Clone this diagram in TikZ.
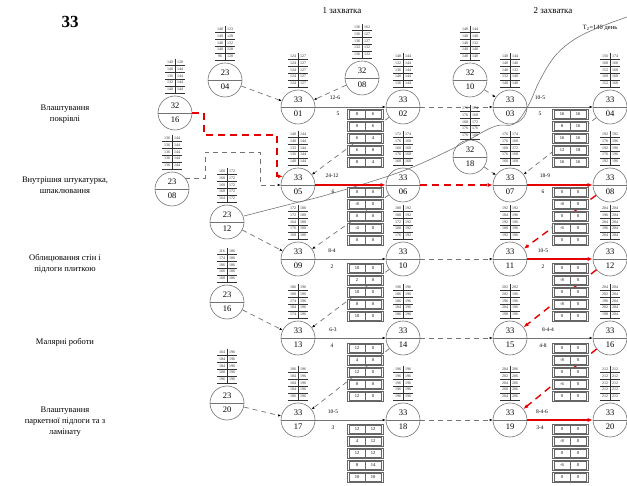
\documentclass[tikz,border=0pt]{standalone}
\usepackage{fontspec}
\setmainfont{Liberation Serif}
\usetikzlibrary{arrows.meta}
\setlength{\tabcolsep}{2pt}
\renewcommand{\arraystretch}{1.3}
\setlength{\arrayrulewidth}{0.35pt}
\tikzset{
 ev/.style={circle,draw=black!55,line width=0.6pt,minimum size=34pt,inner sep=0,fill=white},
 evtxt/.style={font=\fontsize{8.5}{8.5}\selectfont,inner sep=0},
 stkn/.style={inner sep=0,font=\fontsize{4}{5}\selectfont,text=black!80},
 bframe/.style={draw=black!60,line width=0.5pt,fill=white,minimum width=36pt,minimum height=10pt,inner sep=0},
 bcell/.style={draw=black!60,line width=0.4pt,minimum width=16pt,minimum height=7.5pt,inner sep=0,font=\fontsize{4.5}{5}\selectfont},
 gsol/.style={draw=black!55,line width=0.7pt,-{Latex[length=3pt,width=2.5pt,black]}},
 gdash/.style={draw=black!55,line width=0.7pt,dash pattern=on 5pt off 4pt,-{Latex[length=3pt,width=2.5pt,black]}},
 rsol/.style={draw=red!90!black,line width=1.4pt,-{Latex[length=5pt,width=4pt]}},
 rdash/.style={draw=red!90!black,line width=1.4pt,dash pattern=on 7pt off 5pt,-{Latex[length=5pt,width=4pt]}},
 lbl/.style={font=\fontsize{8.5}{11}\selectfont,align=center,inner sep=0},
 elbl/.style={font=\fontsize{5.5}{5.5}\selectfont,inner sep=0},
 hdr/.style={font=\fontsize{9}{9}\selectfont,inner sep=0},
}
\newcommand\evn[5]{\node[ev] (#1) at (#2,#3) {};
 \draw[black!55,line width=0.5pt] (#1.west)--(#1.east);
 \node[evtxt] (#1t) at ([yshift=7pt]#1.center) {#4};
 \node[evtxt] (#1b) at ([yshift=-7pt]#1.center) {#5};}
\newcommand\stk[8]{\node[stkn] (#1) at (#2,#3) {\begin{tabular}{c|c}#4\\\hline #5\\\hline #6\\\hline #7\\\hline #8\\\hline\end{tabular}};}
\newcommand\bcol[4]{\foreach \a/\b [count=\i from 0] in {#4} {
 \node[bframe] (#1r\i) at (#2,{#3+12*\i}) {};
 \node[bcell] (#1r\i-a) at ([xshift=-8pt]#1r\i.center) {\a};
 \node[bcell] (#1r\i-b) at ([xshift=8pt]#1r\i.center) {\b};}}
\begin{document}
\begin{tikzpicture}[x=1pt,y=-1pt]
\useasboundingbox (0,0) rectangle (627,486);
% title and headers
\node[font=\fontsize{17}{17}\selectfont\bfseries,inner sep=0] (title) at (70,22) {33};
\node[hdr] (h1) at (342,11) {1 захватка};
\node[hdr] (h2) at (553,11) {2 захватка};
\node[font=\fontsize{6.5}{7}\selectfont,inner sep=0] (h3) at (600,28) {T\textsubscript{2}=140 день};
% left labels
\node[lbl] (L1) at (65,114) {Влаштування\\покрівлі};
\node[lbl] (L2) at (65,185) {Внутрішня штукатурка,\\шпаклювання};
\node[lbl] (L3) at (65,264) {Облицювання стін і\\підлоги плиткою};
\node[lbl] (L4) at (65,342) {Малярні роботи};
\node[lbl] (L5) at (65,422) {Влаштування\\паркетної підлоги та з\\ламінату};
% coordinates
\coordinate (r1) at (204,135);
\coordinate (r3) at (277,150);
\coordinate (g1) at (205,152);
\coordinate (g2) at (260,152);
% event circles
\evn{n01}{298}{107}{33}{01}
\evn{n02}{403}{107}{33}{02}
\evn{n03}{510}{107}{33}{03}
\evn{n04}{610}{107}{33}{04}
\evn{n05}{298}{185}{33}{05}
\evn{n06}{403}{185}{33}{06}
\evn{n07}{510}{185}{33}{07}
\evn{n08}{610}{185}{33}{08}
\evn{n09}{298}{259}{33}{09}
\evn{n10}{403}{259}{33}{10}
\evn{n11}{510}{259}{33}{11}
\evn{n12}{610}{259}{33}{12}
\evn{n13}{298}{338}{33}{13}
\evn{n14}{403}{338}{33}{14}
\evn{n15}{510}{338}{33}{15}
\evn{n16}{610}{338}{33}{16}
\evn{n17}{298}{420}{33}{17}
\evn{n18}{403}{420}{33}{18}
\evn{n19}{510}{420}{33}{19}
\evn{n20}{610}{420}{33}{20}
\evn{q1}{225}{80}{23}{04}
\evn{q2}{362}{78}{32}{08}
\evn{q3}{470}{80}{32}{10}
\evn{q4}{175}{113}{32}{16}
\evn{q5}{172}{189}{23}{08}
\evn{q6}{227}{222}{23}{12}
\evn{q7}{470}{157}{32}{18}
\evn{q8}{227}{302}{23}{16}
\evn{q9}{227}{403}{23}{20}
% T2 curve
\draw[black!55,line width=0.6pt] plot[smooth,tension=0.6] coordinates {(244,216) (287,205) (330,194) (400,172) (450,150) (493,127) (514,124) (528,106) (540,80) (555,56) (575,39) (600,27) (627,17)};
% dependency lines
\draw[gdash] (q1)--(n01);
\draw[gdash] (q2)--(n01);
\draw[gdash] (q3)--(n03);
\draw[gdash] (n02)--(n05);
\draw[gdash] (n04)--(n07);
\draw[gdash] (q7)--(n07);
\draw[gdash] (n06)--(n09);
\draw[gdash] (q6)--(n09);
\draw[gdash] (n10)--(n13);
\draw[gdash] (q8)--(n13);
\draw[gdash] (n14)--(n17);
\draw[gdash] (q9)--(n17);
\draw[rdash] (n08)--(n11);
\draw[rdash] (n12)--(n15);
\draw[rdash] (n16)--(n19);
\draw[gdash] (q5.40) -| (g1) -| (g2) |- (n05.west);
\draw[rdash] (q4.east) -| (r1) -| (r3) |- (n05.150);
% box columns
\bcol{bA}{365}{114}{8/6,0/6,6/4,6/8,8/4}
\bcol{bB}{570}{114}{16/16,8/16,16/16,12/18,16/16}
\bcol{bC}{365}{192}{0/0,-8/0,0/0,-4/0,0/0}
\bcol{bD}{570}{192}{0/0,-8/0,0/0,-6/0,0/0}
\bcol{bE}{365}{268}{10/0,2/0,10/0,8/0,10/0}
\bcol{bF}{570}{268}{0/0,-8/0,0/0,-8/0,0/0}
\bcol{bG}{365}{348}{12/0,4/0,12/0,8/0,12/0}
\bcol{bH}{570}{348}{0/0,-8/0,0/0,-6/0,0/0}
\bcol{bI}{365}{429}{12/12,4/12,12/12,8/14,10/10}
\bcol{bJ}{570}{429}{0/0,-8/0,0/0,-6/0,0/0}
% horizontal work arrows
\draw[gsol] (n01)--(n02);
\draw[gdash] (n02)--(n03);
\draw[gsol] (n03)--(n04);
\draw[rsol] (n05)--(n06);
\draw[rdash] (n06)--(n07);
\draw[rsol] (n07)--(n08);
\draw[gsol] (n09)--(n10);
\draw[gdash] (n10)--(n11);
\draw[rsol] (n11)--(n12);
\draw[gsol] (n13)--(n14);
\draw[gdash] (n14)--(n15);
\draw[gsol] (n15)--(n16);
\draw[gsol] (n17)--(n18);
\draw[gdash] (n18)--(n19);
\draw[rsol] (n19)--(n20);
% edge labels
\node[elbl] (e1a) at (335,98) {12-6};   \node[elbl] (e1b) at (338,114) {5};
\node[elbl] (e2a) at (540,98) {10-5};   \node[elbl] (e2b) at (540,114) {5};
\node[elbl] (e3a) at (332,176) {24-12};  \node[elbl] (e3b) at (333,192) {6};
\node[elbl] (e4a) at (545,176) {18-9};  \node[elbl] (e4b) at (543,192) {6};
\node[elbl] (e5a) at (332,251) {8-4};   \node[elbl] (e5b) at (332,267) {2};
\node[elbl] (e6a) at (543,251) {10-5};  \node[elbl] (e6b) at (543,267) {2};
\node[elbl] (e7a) at (333,330) {6-3};   \node[elbl] (e7b) at (332,346) {4};
\node[elbl] (e8a) at (548,330) {8-4-4}; \node[elbl] (e8b) at (543,346) {4-8};
\node[elbl] (e9a) at (333,412) {10-5};  \node[elbl] (e9b) at (333,428) {3};
\node[elbl] (e10a) at (542,412) {8-4-6}; \node[elbl] (e10b) at (540,428) {3-4};
% number stacks
\stk{s01}{298}{70}{124&127}{124&127}{124&127}{124&127}{124&127}
\stk{s02}{403}{70}{140&144}{132&144}{136&144}{140&144}{136&144}
\stk{s03}{510}{70}{140&144}{140&140}{140&132}{132&140}{140&140}
\stk{s04}{610}{70}{156&174}{168&168}{152&168}{160&168}{152&168}
\stk{s05}{298}{148}{140&144}{140&144}{132&144}{136&144}{140&144}
\stk{s06}{403}{148}{172&174}{176&168}{160&168}{176&168}{168&168}
\stk{s07}{510}{148}{176&174}{176&168}{168&172}{176&168}{168&168}
\stk{s08}{610}{148}{192&192}{176&196}{192&196}{176&196}{192&196}
\stk{s09}{298}{222}{172&180}{172&180}{164&180}{176&180}{168&180}
\stk{s10}{403}{222}{180&192}{180&192}{172&192}{180&192}{176&192}
\stk{s11}{510}{222}{192&192}{184&196}{192&196}{180&196}{192&196}
\stk{s12}{610}{222}{204&204}{196&204}{204&204}{196&204}{204&204}
\stk{s13}{298}{301}{186&196}{180&196}{174&196}{184&196}{174&196}
\stk{s14}{403}{301}{196&196}{186&196}{186&196}{184&196}{186&196}
\stk{s15}{510}{301}{202&202}{202&196}{196&196}{204&196}{198&196}
\stk{s16}{610}{301}{204&204}{202&204}{196&204}{202&204}{198&204}
\stk{s17}{298}{383}{186&196}{184&196}{184&196}{184&196}{186&196}
\stk{s18}{403}{383}{196&196}{196&196}{196&196}{196&196}{196&196}
\stk{s19}{510}{383}{204&206}{202&206}{204&206}{200&206}{204&206}
\stk{s20}{610}{383}{212&212}{212&212}{212&212}{212&212}{212&212}
\stk{t1}{225}{43}{140&123}{140&128}{140&132}{140&128}{96&128}
\stk{t2}{362}{41}{136&162}{136&127}{136&127}{132&132}{136&132}
\stk{t3}{470}{43}{140&144}{140&140}{140&132}{140&140}{140&140}
\stk{t4}{175}{76}{140&120}{140&144}{136&144}{132&144}{140&144}
\stk{t5}{172}{152}{136&144}{136&144}{136&144}{136&144}{136&144}
\stk{t6}{227}{185}{160&172}{160&172}{160&172}{160&172}{164&172}
\stk{t7}{470}{122}{176&174}{176&168}{168&172}{176&176}{176&168}
\stk{t8}{227}{265}{116&186}{174&186}{186&186}{166&186}{168&186}
\stk{t9}{227}{366}{164&196}{184&196}{184&196}{180&196}{196&196}
\end{tikzpicture}
\end{document}
